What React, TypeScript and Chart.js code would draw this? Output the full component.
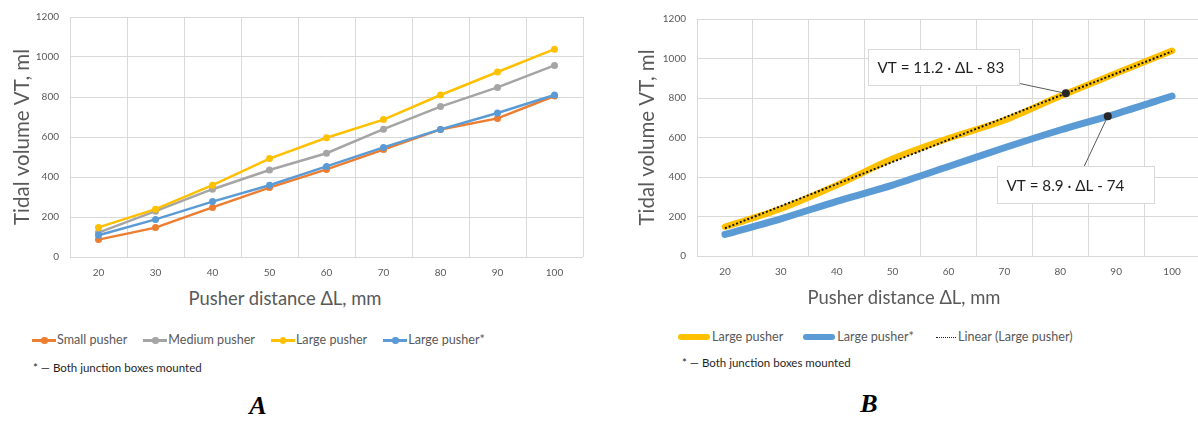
import React, { useEffect, useRef } from "react";
import { Chart, registerables } from "chart.js";

Chart.register(...registerables);

// ---------- data ----------
const distanceLabels = ["20", "30", "40", "50", "60", "70", "80", "90", "100"];
const distanceValues = [20, 30, 40, 50, 60, 70, 80, 90, 100];
const smallPusher = [87, 147, 248, 347, 438, 537, 638, 693, 805];
const mediumPusher = [122, 229, 339, 435, 519, 639, 752, 848, 958];
const largePusher = [148, 239, 359, 492, 596, 687, 810, 925, 1039];
const largePusherStar = [109, 188, 277, 359, 453, 548, 638, 720, 810];

const yMin = 0;
const yMax = 1200;
const yStep = 200;

const seriesNamesA = ["Small pusher", "Medium pusher", "Large pusher", "Large pusher*"];
const seriesNamesB = ["Large pusher", "Large pusher*", "Linear (Large pusher)"];
const equationLabels = ["VT = 11.2 · ΔL - 83", "VT = 8.9 · ΔL - 74"];
const calloutDistances = [81, 88.5];

const xTitle = "Pusher distance ΔL, mm";
const yTitle = "Tidal volume VT, ml";
const footnote = "* — Both junction boxes mounted";

// ---------- styles ----------
const C_SMALL = "#ED7D31";
const C_MEDIUM = "#A5A5A5";
const C_LARGE = "#FFC000";
const C_STAR = "#5B9BD5";
const GRID = "#d9d9d9";
const TEXT = "#595959";
const FONT = "Lato, 'Open Sans', sans-serif";

function linearFit(xs: number[], ys: number[]) {
  const n = xs.length;
  const mx = xs.reduce((a, b) => a + b, 0) / n;
  const my = ys.reduce((a, b) => a + b, 0) / n;
  let sxy = 0;
  let sxx = 0;
  for (let i = 0; i < n; i++) {
    sxy += (xs[i] - mx) * (ys[i] - my);
    sxx += (xs[i] - mx) * (xs[i] - mx);
  }
  const slope = sxy / sxx;
  return { slope, intercept: my - slope * mx };
}

const largeFit = linearFit(distanceValues, largePusher);
const starFit = linearFit(distanceValues, largePusherStar);
const trendValues = distanceValues.map((x) => largeFit.slope * x + largeFit.intercept);

function interp(xs: number[], ys: number[], x: number) {
  for (let i = 0; i < xs.length - 1; i++) {
    if (x >= xs[i] && x <= xs[i + 1]) {
      const t = (x - xs[i]) / (xs[i + 1] - xs[i]);
      return ys[i] + t * (ys[i + 1] - ys[i]);
    }
  }
  return ys[ys.length - 1];
}

function scalesConfig(yWidth: number, xHeight: number, titlePad: number) {
  return {
    x: {
      type: "category" as const,
      offset: true,
      grid: { offset: true, color: GRID, lineWidth: 1, drawTicks: false },
      border: { display: false },
      ticks: { color: TEXT, font: { family: FONT, size: 10 }, padding: 10, maxRotation: 0, autoSkip: false },
      afterFit: (s: any) => {
        s.height = xHeight;
      },
    },
    y: {
      min: yMin,
      max: yMax,
      grid: { color: GRID, lineWidth: 1, drawTicks: false },
      border: { display: false },
      ticks: {
        stepSize: yStep,
        color: TEXT,
        font: { family: FONT, size: 10 },
        padding: 11,
        callback: (v: any) => String(v),
      },
      title: {
        display: true,
        text: yTitle,
        color: TEXT,
        font: { family: FONT, size: 20.5 },
        padding: { top: titlePad, bottom: 0 },
      },
      afterFit: (s: any) => {
        s.width = yWidth;
      },
    },
  };
}

function ChartA() {
  const ref = useRef<HTMLCanvasElement>(null);
  useEffect(() => {
    const mk = (label: string, data: number[], color: string, order: number) => ({
      label,
      data,
      borderColor: color,
      backgroundColor: color,
      borderWidth: 2.5,
      pointRadius: 3.5,
      pointBorderWidth: 0,
      pointBackgroundColor: color,
      tension: 0,
      order,
    });
    const chart = new Chart(ref.current!, {
      type: "line",
      data: {
        labels: distanceLabels,
        datasets: [
          mk(seriesNamesA[0], smallPusher, C_SMALL, 4),
          mk(seriesNamesA[1], mediumPusher, C_MEDIUM, 3),
          mk(seriesNamesA[2], largePusher, C_LARGE, 2),
          mk(seriesNamesA[3], largePusherStar, C_STAR, 1),
        ],
      },
      options: {
        animation: false,
        responsive: false,
        layout: { padding: { top: 14, right: 17, left: 0, bottom: 0 } },
        plugins: { legend: { display: false }, tooltip: { enabled: false } },
        scales: scalesConfig(70, 28, 10) as any,
      },
    });
    return () => chart.destroy();
  }, []);
  return (
    <canvas
      ref={ref}
      width={600}
      height={285}
      style={{ position: "absolute", left: 0, top: 0, width: 600, height: 285 }}
    />
  );
}

const calloutPlugin = {
  id: "callouts",
  afterDatasetsDraw(chart: any) {
    const ctx = chart.ctx;
    const xs = chart.scales.x;
    const ys = chart.scales.y;
    const items = [
      {
        text: equationLabels[0],
        at: calloutDistances[0],
        value: largeFit.slope * calloutDistances[0] + largeFit.intercept,
        dx: -122,
        dy: -26,
        w: 151,
        h: 36,
      },
      {
        text: equationLabels[1],
        at: calloutDistances[1],
        value:
          interp(distanceValues, largePusherStar, calloutDistances[1]) * 0.5 +
          (starFit.slope * calloutDistances[1] + starFit.intercept) * 0.5,
        dx: -32,
        dy: 68,
        w: 157,
        h: 37,
      },
    ];
    ctx.save();
    for (const it of items) {
      const px = xs.getPixelForValue((it.at - distanceValues[0]) / (distanceValues[1] - distanceValues[0]));
      const py = ys.getPixelForValue(it.value);
      const cx = px + it.dx;
      const cy = py + it.dy;
      ctx.strokeStyle = "#595959";
      ctx.lineWidth = 1;
      ctx.beginPath();
      ctx.moveTo(cx, cy);
      ctx.lineTo(px, py);
      ctx.stroke();
      ctx.fillStyle = "#262626";
      ctx.beginPath();
      ctx.arc(px, py, 4, 0, Math.PI * 2);
      ctx.fill();
      const bx = Math.round(cx - it.w / 2) + 0.5;
      const by = Math.round(cy - it.h / 2) + 0.5;
      ctx.fillStyle = "#ffffff";
      ctx.fillRect(bx, by, it.w, it.h);
      ctx.strokeStyle = GRID;
      ctx.strokeRect(bx, by, it.w, it.h);
      ctx.fillStyle = "#1f1f1f";
      ctx.font = `15.2px ${FONT}`;
      ctx.textBaseline = "middle";
      ctx.textAlign = "left";
      ctx.fillText(it.text, bx + 9, by + it.h / 2 + 1);
    }
    ctx.restore();
  },
};

function ChartB() {
  const ref = useRef<HTMLCanvasElement>(null);
  useEffect(() => {
    const chart = new Chart(ref.current!, {
      type: "line",
      data: {
        labels: distanceLabels,
        datasets: [
          {
            label: seriesNamesB[2],
            data: trendValues,
            borderColor: "#111111",
            borderWidth: 2,
            borderDash: [2, 2],
            pointRadius: 0,
            tension: 0,
            order: 0,
          },
          {
            label: seriesNamesB[1],
            data: largePusherStar,
            borderColor: C_STAR,
            borderWidth: 7,
            borderCapStyle: "round",
            borderJoinStyle: "round",
            pointRadius: 0,
            tension: 0.3,
            order: 1,
          },
          {
            label: seriesNamesB[0],
            data: largePusher,
            borderColor: C_LARGE,
            borderWidth: 6.5,
            borderCapStyle: "round",
            borderJoinStyle: "round",
            pointRadius: 0,
            tension: 0.3,
            order: 2,
          },
        ],
      },
      options: {
        animation: false,
        responsive: false,
        layout: { padding: { top: 19, right: 20, left: 0, bottom: 0 } },
        plugins: { legend: { display: false }, tooltip: { enabled: false } },
        scales: scalesConfig(97, 29, 35) as any,
      },
      plugins: [calloutPlugin],
    });
    return () => chart.destroy();
  }, []);
  return (
    <canvas
      ref={ref}
      width={620}
      height={285}
      style={{ position: "absolute", left: 600, top: 0, width: 620, height: 285 }}
    />
  );
}

const abs = (left: number, top: number, extra: React.CSSProperties = {}): React.CSSProperties => ({
  position: "absolute",
  left,
  top,
  whiteSpace: "nowrap",
  ...extra,
});

function DotMarker({ color }: { color: string }) {
  return (
    <span style={{ position: "relative", display: "inline-block", width: 24, height: 12, marginRight: 1 }}>
      <span style={{ position: "absolute", left: 0, top: 5, width: 24, height: 2.5, background: color }} />
      <span
        style={{ position: "absolute", left: 9, top: 3, width: 6.5, height: 6.5, borderRadius: "50%", background: color }}
      />
    </span>
  );
}

function ThickMarker({ color }: { color: string }) {
  return (
    <span style={{ position: "relative", display: "inline-block", width: 32, height: 12, marginRight: 2 }}>
      <span style={{ position: "absolute", left: 0, top: 3, width: 32, height: 6, borderRadius: 3, background: color }} />
    </span>
  );
}

function DottedMarker() {
  return (
    <span style={{ position: "relative", display: "inline-block", width: 20, height: 12, marginRight: 2 }}>
      <span style={{ position: "absolute", left: 0, top: 6, width: 20, height: 0, borderTop: "1.5px dotted #222" }} />
    </span>
  );
}

const legendText: React.CSSProperties = { fontFamily: FONT, fontSize: 12.6, color: TEXT };
const xTitleStyle: React.CSSProperties = {
  textAlign: "center",
  fontFamily: FONT,
  fontSize: 18.4,
  color: TEXT,
  lineHeight: "26px",
};
const footStyle: React.CSSProperties = { fontFamily: FONT, fontSize: 11.5, color: "#1f1f1f", lineHeight: "16px" };
const panelLetter: React.CSSProperties = {
  textAlign: "center",
  fontFamily: "'Liberation Serif', 'Times New Roman', serif",
  fontWeight: "bold",
  fontStyle: "italic",
  fontSize: 26,
  color: "#000",
  lineHeight: "30px",
};

export default function App() {
  const colorsA = [C_SMALL, C_MEDIUM, C_LARGE, C_STAR];
  return (
    <div
      style={{
        position: "absolute",
        left: 0,
        top: 0,
        width: 1198,
        height: 421,
        overflow: "hidden",
        background: "#ffffff",
      }}
    >
      <ChartA />
      <ChartB />

      {/* Chart A texts */}
      <div style={abs(0, 285, { width: 570, ...xTitleStyle })}>{xTitle}</div>
      <div style={abs(32, 332, { display: "flex", alignItems: "center", lineHeight: "16px" })}>
        {seriesNamesA.map((n, i) => (
          <span key={n} style={{ display: "inline-flex", alignItems: "center", marginRight: 16 }}>
            <DotMarker color={colorsA[i]} />
            <span style={legendText}>{n}</span>
          </span>
        ))}
      </div>
      <div style={abs(33, 360, footStyle)}>{footnote}</div>
      <div style={abs(0, 391, { width: 516, ...panelLetter })}>A</div>

      {/* Chart B texts */}
      <div style={abs(600, 284, { width: 608, ...xTitleStyle })}>{xTitle}</div>
      <div style={abs(678, 329, { display: "flex", alignItems: "center", lineHeight: "16px" })}>
        <span style={{ display: "inline-flex", alignItems: "center", marginRight: 20 }}>
          <ThickMarker color={C_LARGE} />
          <span style={legendText}>{seriesNamesB[0]}</span>
        </span>
        <span style={{ display: "inline-flex", alignItems: "center", marginRight: 22 }}>
          <ThickMarker color={C_STAR} />
          <span style={legendText}>{seriesNamesB[1]}</span>
        </span>
        <span style={{ display: "inline-flex", alignItems: "center" }}>
          <DottedMarker />
          <span style={legendText}>{seriesNamesB[2]}</span>
        </span>
      </div>
      <div style={abs(682, 355, footStyle)}>{footnote}</div>
      <div style={abs(600, 389, { width: 538, ...panelLetter })}>B</div>
    </div>
  );
}
